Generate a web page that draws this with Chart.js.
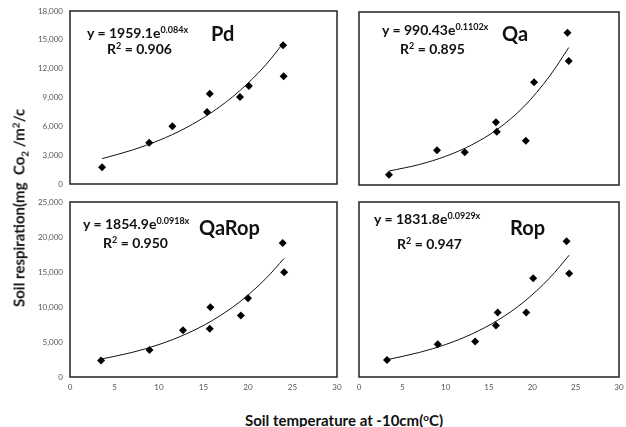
<!DOCTYPE html>
<html>
<head>
<meta charset="utf-8">
<script src="https://cdn.jsdelivr.net/npm/chart.js@4"></script>
<style>
  body { margin: 0; background: #fff; }
  #wrap { position: relative; width: 626px; height: 427px; font-family: Lato, "Liberation Sans", sans-serif; }
  canvas { position: absolute; }
  .txt { position: absolute; font-weight: bold; color: #111; white-space: nowrap; line-height: 1; }
  .eq { font-size: 14px; }
  .eq sup { font-size: 9px; vertical-align: 5px; }
  .tag { font-size: 20px; }
  .ttl { font-size: 15px; }
  .ttl sup { font-size: 10px; vertical-align: 5px; }
</style>
</head>
<body>
<div id="wrap">
  <canvas id="chartPd" width="350" height="195" style="left:0;top:0"></canvas>
  <canvas id="chartQa" width="286" height="195" style="left:340px;top:0"></canvas>
  <canvas id="chartQaRop" width="350" height="210" style="left:0;top:190px"></canvas>
  <canvas id="chartRop" width="286" height="210" style="left:340px;top:190px"></canvas>

  <div class="txt eq" style="left:87px;top:25px">y = 1959.1e<sup>0.084x</sup></div>
  <div class="txt eq" style="left:107px;top:41px">R<sup>2</sup> = 0.906</div>
  <div class="txt tag" style="left:211px;top:23px">Pd</div>

  <div class="txt eq" style="left:382px;top:22px">y = 990.43e<sup>0.1102x</sup></div>
  <div class="txt eq" style="left:400px;top:41px">R<sup>2</sup> = 0.895</div>
  <div class="txt tag" style="left:502px;top:23px">Qa</div>

  <div class="txt eq" style="left:83px;top:216px">y = 1854.9e<sup>0.0918x</sup></div>
  <div class="txt eq" style="left:103px;top:235px">R<sup>2</sup> = 0.950</div>
  <div class="txt tag" style="left:199px;top:217px">QaRop</div>

  <div class="txt eq" style="left:374px;top:211px">y = 1831.8e<sup>0.0929x</sup></div>
  <div class="txt eq" style="left:397px;top:236px">R<sup>2</sup> = 0.947</div>
  <div class="txt tag" style="left:510px;top:217px">Rop</div>

  <div class="txt ttl" style="left:20px;top:208px;transform:translate(-50%,-50%) rotate(-90deg)">Soil respiration(mg&nbsp; Co<sub style="font-size:10px">2</sub> /m<sup>2</sup>/c</div>
  <div class="txt ttl" style="left:344px;top:420px;transform:translate(-50%,-50%)">Soil temperature at -10cm(<sup>o</sup>C)</div>
</div>
<script>
// soil temperature (x) and soil respiration (y)
const pdTemp = [3.6, 8.9, 11.5, 15.4, 15.7, 19.1, 20.1, 23.95, 24.0];
const pdResp = [1750, 4300, 6000, 7500, 9400, 9050, 10200, 14430, 11200];
const pdTrendTemp = [3.6, 7, 10, 13, 16, 19, 22, 24];
const pdTrendResp = [2640, 3530, 4540, 5830, 7500, 9640, 12400, 14700];

const qaTemp = [3.46, 9.0, 12.2, 15.8, 15.9, 19.25, 20.2, 24.06, 24.2];
const qaResp = [1070, 3610, 3400, 6520, 5550, 4610, 10680, 15850, 12900];
const qaTrendTemp = [3.46, 7, 10, 13, 16, 19, 22, 24.2];
const qaTrendResp = [1450, 2140, 2990, 4170, 5820, 8130, 11340, 14300];

const qaropTemp = [3.49, 8.93, 12.7, 15.7, 15.77, 19.2, 20.0, 23.9, 24.06];
const qaropResp = [2340, 3860, 6670, 6910, 9950, 8770, 11240, 19140, 14960];
const qaropTrendTemp = [3.49, 7, 10, 13, 16, 19, 22, 24.06];
const qaropTrendResp = [2560, 3520, 4640, 6120, 8080, 10660, 14060, 16950];

const ropTemp = [3.23, 9.09, 13.4, 15.8, 16.0, 19.3, 20.1, 23.95, 24.25];
const ropResp = [2430, 4670, 5060, 7340, 9200, 9200, 14100, 19390, 14770];
const ropTrendTemp = [3.23, 7, 10, 13, 16, 19, 22, 24.25];
const ropTrendResp = [2470, 3520, 4640, 6130, 8100, 10710, 14150, 17400];

const xTicks = [0, 5, 10, 15, 20, 25, 30];

const frameBox = {
    id: "frameBox",
    afterDraw(chart) {
        const {ctx, chartArea: a} = chart;
        ctx.save();
        ctx.strokeStyle = "#222";
        ctx.lineWidth = 1.5;
        ctx.strokeRect(a.left, a.top, a.right - a.left, a.bottom - a.top);
        ctx.restore();
    }
};

function pairs(xs, ys) {
    return xs.map((x, i) => ({x: x, y: ys[i]}));
}

function makePanel(id, temp, resp, trendTemp, trendResp, opt) {
    const tickFont = {family: "Lato, 'Liberation Sans', sans-serif", size: 8};
    return new Chart(document.getElementById(id).getContext("2d"), {
        type: "scatter",
        data: {
            datasets: [
                {
                    data: pairs(temp, resp),
                    pointStyle: "rectRot",
                    pointRadius: 4,
                    backgroundColor: "#000",
                    borderColor: "#000",
                    borderWidth: 0
                },
                {
                    data: pairs(trendTemp, trendResp),
                    showLine: true,
                    pointRadius: 0,
                    borderColor: "#111",
                    borderWidth: 1,
                    cubicInterpolationMode: "monotone"
                }
            ]
        },
        options: {
            responsive: false,
            animation: false,
            layout: {padding: opt.padding},
            plugins: {legend: {display: false}, tooltip: {enabled: false}},
            scales: {
                x: {
                    type: "linear",
                    min: 0,
                    max: 30,
                    display: opt.showX,
                    grid: {display: false, drawTicks: false},
                    border: {display: false},
                    afterBuildTicks: (s) => { s.ticks = xTicks.map(v => ({value: v})); },
                    ticks: {color: "#555", font: tickFont, padding: 6},
                    afterFit: (s) => {
                        if (!opt.showX) return;
                        s.height = 23; s.paddingLeft = 0; s.paddingRight = 0;
                    }
                },
                y: {
                    min: 0,
                    max: opt.yMax,
                    display: opt.showY,
                    grid: {display: false, drawTicks: false},
                    border: {display: false},
                    ticks: {
                        stepSize: opt.yStep,
                        color: "#555",
                        font: tickFont,
                        padding: 7,
                        callback: (v) => v.toLocaleString("en-US")
                    },
                    afterFit: (s) => {
                        if (!opt.showY) return;
                        s.width = 70; s.paddingTop = 0; s.paddingBottom = 0;
                    }
                }
            }
        },
        plugins: [frameBox]
    });
}

makePanel("chartPd", pdTemp, pdResp, pdTrendTemp, pdTrendResp,
    {showX: false, showY: true, yMax: 18000, yStep: 3000, padding: {top: 11, right: 13, bottom: 11, left: 0}});
makePanel("chartQa", qaTemp, qaResp, qaTrendTemp, qaTrendResp,
    {showX: false, showY: false, yMax: 18000, yStep: 3000, padding: {top: 12, right: 7, bottom: 10, left: 19}});
makePanel("chartQaRop", qaropTemp, qaropResp, qaropTrendTemp, qaropTrendResp,
    {showX: true, showY: true, yMax: 25000, yStep: 5000, padding: {top: 12, right: 13, bottom: 0, left: 0}});
makePanel("chartRop", ropTemp, ropResp, ropTrendTemp, ropTrendResp,
    {showX: true, showY: false, yMax: 25000, yStep: 5000, padding: {top: 12, right: 7, bottom: 0, left: 19}});
</script>
</body>
</html>
